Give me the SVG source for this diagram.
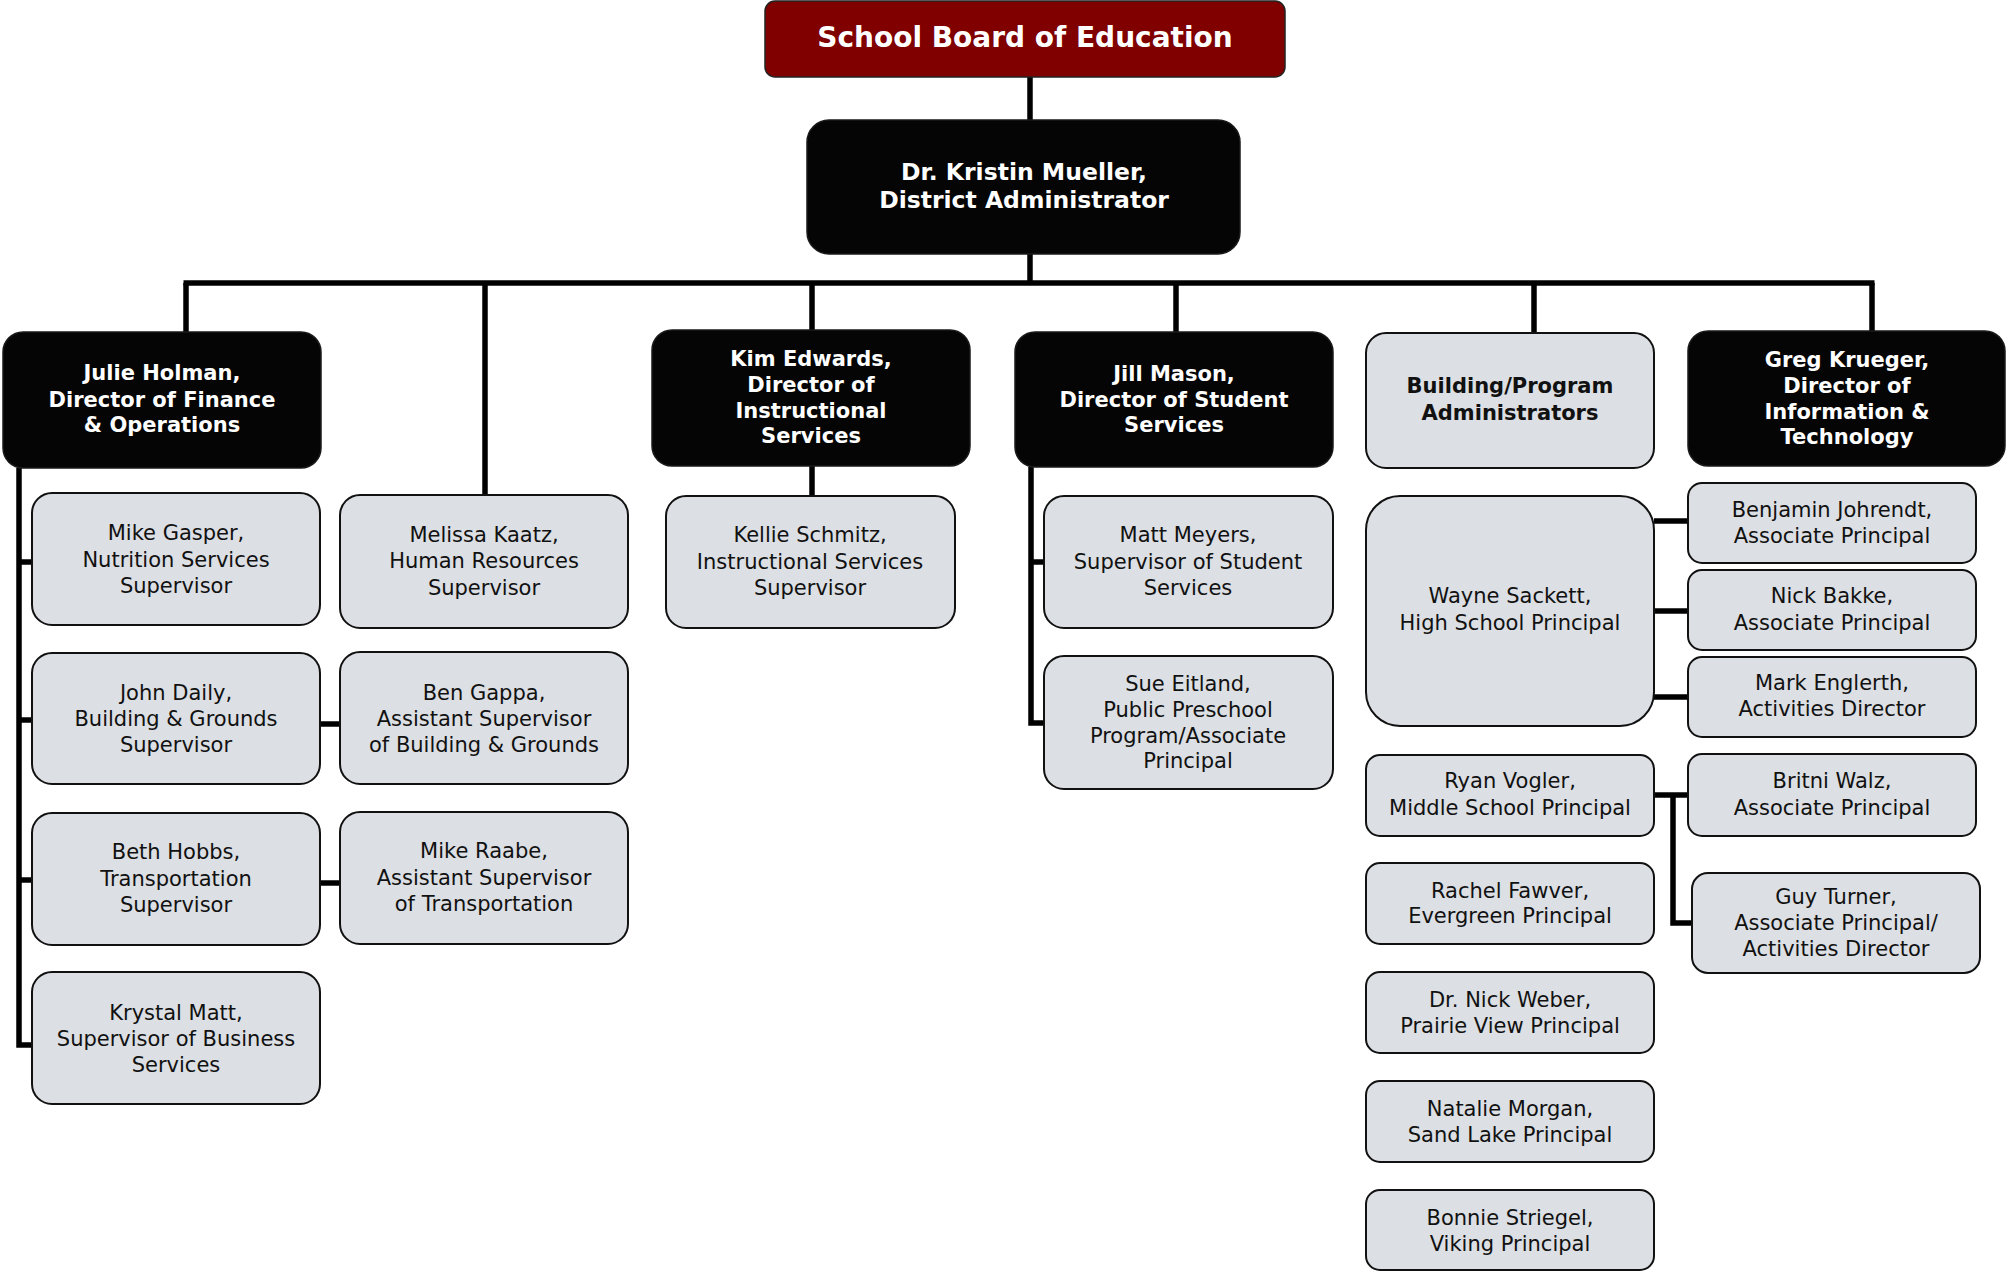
<svg xmlns="http://www.w3.org/2000/svg" width="2007" height="1273" viewBox="0 0 2007 1273">
<style>
.dk{fill:#050505;stroke:#1a1a1a;stroke-width:1.5}
.lt{fill:#dcdfe3;stroke:#111;stroke-width:2}
.bd{fill:#800000;stroke:#222;stroke-width:1.5}
.tw{font-family:"DejaVu Sans",Verdana,sans-serif;font-weight:bold;font-size:21px;fill:#fff;text-anchor:middle}
.tb{font-family:"DejaVu Sans",Verdana,sans-serif;font-weight:bold;font-size:21px;fill:#111;text-anchor:middle}
.tn{font-family:"DejaVu Sans",Verdana,sans-serif;font-size:21px;fill:#111;text-anchor:middle}
.cn{fill:none;stroke:#000;stroke-width:5.5;stroke-linejoin:miter}
</style>
<rect width="2007" height="1273" fill="#fff"/>
<g id="connectors" class="cn">
<path d="M1030,77 V120"/>
<path d="M1030,254 V283"/>
<path d="M183.5,283 H1874.5"/>
<path d="M186,283 V332"/>
<path d="M485,283 V495"/>
<path d="M812,283 V496"/>
<path d="M1176,283 V346"/>
<path d="M1534,283 V333"/>
<path d="M1872,283 V340"/>
<path d="M19,468 V1045 H32"/>
<path d="M19,562 H32"/>
<path d="M19,720 H32"/>
<path d="M19,880 H32"/>
<path d="M320,724 H340"/>
<path d="M320,883 H340"/>
<path d="M1031,467 V723 H1044"/>
<path d="M1031,562 H1044"/>
<path d="M1654,521 H1688"/>
<path d="M1654,611 H1688"/>
<path d="M1654,697 H1688"/>
<path d="M1654,795 H1688"/>
<path d="M1673,795 V923 H1692"/>
</g>
<g id="board"><rect class="bd" x="765" y="1" width="520" height="76" rx="10"/><text class="tw" x="1025" y="47" style="font-size:28px">School Board of Education</text></g>
<g id="admin"><rect class="dk" x="807" y="120" width="433" height="134" rx="22"/><text class="tw" x="1024" y="180" style="font-size:23.5px">Dr. Kristin Mueller,</text><text class="tw" x="1024" y="208" style="font-size:23.5px">District Administrator</text></g>
<g id="julie"><rect class="dk" x="3" y="332" width="318" height="136" rx="20"/><text class="tw" x="162" y="380">Julie Holman,</text><text class="tw" x="162" y="407">Director of Finance</text><text class="tw" x="162" y="432">&amp; Operations</text></g>
<g id="kim"><rect class="dk" x="652" y="330" width="318" height="136" rx="20"/><text class="tw" x="811" y="366">Kim Edwards,</text><text class="tw" x="811" y="392">Director of</text><text class="tw" x="811" y="418">Instructional</text><text class="tw" x="811" y="443">Services</text></g>
<g id="jill"><rect class="dk" x="1015" y="332" width="318" height="135" rx="20"/><text class="tw" x="1174" y="381">Jill Mason,</text><text class="tw" x="1174" y="407">Director of Student</text><text class="tw" x="1174" y="432">Services</text></g>
<g id="building"><rect class="lt" x="1366" y="333" width="288" height="135" rx="20"/><text class="tb" x="1510" y="393">Building/Program</text><text class="tb" x="1510" y="420">Administrators</text></g>
<g id="greg"><rect class="dk" x="1688" y="331" width="317" height="135" rx="20"/><text class="tw" x="1847" y="367">Greg Krueger,</text><text class="tw" x="1847" y="393">Director of</text><text class="tw" x="1847" y="419">Information &amp;</text><text class="tw" x="1847" y="444">Technology</text></g>
<g id="gasper"><rect class="lt" x="32" y="493" width="288" height="132" rx="20"/><text class="tn" x="176" y="540">Mike Gasper,</text><text class="tn" x="176" y="567">Nutrition Services</text><text class="tn" x="176" y="593">Supervisor</text></g>
<g id="kaatz"><rect class="lt" x="340" y="495" width="288" height="133" rx="20"/><text class="tn" x="484" y="542">Melissa Kaatz,</text><text class="tn" x="484" y="568">Human Resources</text><text class="tn" x="484" y="595">Supervisor</text></g>
<g id="daily"><rect class="lt" x="32" y="653" width="288" height="131" rx="20"/><text class="tn" x="176" y="700">John Daily,</text><text class="tn" x="176" y="726">Building &amp; Grounds</text><text class="tn" x="176" y="752">Supervisor</text></g>
<g id="gappa"><rect class="lt" x="340" y="652" width="288" height="132" rx="20"/><text class="tn" x="484" y="700">Ben Gappa,</text><text class="tn" x="484" y="726">Assistant Supervisor</text><text class="tn" x="484" y="752">of Building &amp; Grounds</text></g>
<g id="hobbs"><rect class="lt" x="32" y="813" width="288" height="132" rx="20"/><text class="tn" x="176" y="859">Beth Hobbs,</text><text class="tn" x="176" y="886">Transportation</text><text class="tn" x="176" y="912">Supervisor</text></g>
<g id="raabe"><rect class="lt" x="340" y="812" width="288" height="132" rx="20"/><text class="tn" x="484" y="858">Mike Raabe,</text><text class="tn" x="484" y="885">Assistant Supervisor</text><text class="tn" x="484" y="911">of Transportation</text></g>
<g id="matt-krystal"><rect class="lt" x="32" y="972" width="288" height="132" rx="20"/><text class="tn" x="176" y="1020">Krystal Matt,</text><text class="tn" x="176" y="1046">Supervisor of Business</text><text class="tn" x="176" y="1072">Services</text></g>
<g id="schmitz"><rect class="lt" x="666" y="496" width="289" height="132" rx="20"/><text class="tn" x="810" y="542">Kellie Schmitz,</text><text class="tn" x="810" y="569">Instructional Services</text><text class="tn" x="810" y="595">Supervisor</text></g>
<g id="meyers"><rect class="lt" x="1044" y="496" width="289" height="132" rx="20"/><text class="tn" x="1188" y="542">Matt Meyers,</text><text class="tn" x="1188" y="569">Supervisor of Student</text><text class="tn" x="1188" y="595">Services</text></g>
<g id="eitland"><rect class="lt" x="1044" y="656" width="289" height="133" rx="20"/><text class="tn" x="1188" y="691">Sue Eitland,</text><text class="tn" x="1188" y="717">Public Preschool</text><text class="tn" x="1188" y="743">Program/Associate</text><text class="tn" x="1188" y="768">Principal</text></g>
<g id="sackett"><rect class="lt" x="1366" y="496" width="288" height="230" rx="34"/><text class="tn" x="1510" y="603">Wayne Sackett,</text><text class="tn" x="1510" y="630">High School Principal</text></g>
<g id="johrendt"><rect class="lt" x="1688" y="483" width="288" height="80" rx="14"/><text class="tn" x="1832" y="517">Benjamin Johrendt,</text><text class="tn" x="1832" y="543">Associate Principal</text></g>
<g id="bakke"><rect class="lt" x="1688" y="570" width="288" height="80" rx="14"/><text class="tn" x="1832" y="603">Nick Bakke,</text><text class="tn" x="1832" y="630">Associate Principal</text></g>
<g id="englerth"><rect class="lt" x="1688" y="657" width="288" height="80" rx="14"/><text class="tn" x="1832" y="690">Mark Englerth,</text><text class="tn" x="1832" y="716">Activities Director</text></g>
<g id="vogler"><rect class="lt" x="1366" y="755" width="288" height="81" rx="14"/><text class="tn" x="1510" y="788">Ryan Vogler,</text><text class="tn" x="1510" y="815">Middle School Principal</text></g>
<g id="walz"><rect class="lt" x="1688" y="754" width="288" height="82" rx="14"/><text class="tn" x="1832" y="788">Britni Walz,</text><text class="tn" x="1832" y="815">Associate Principal</text></g>
<g id="turner"><rect class="lt" x="1692" y="873" width="288" height="100" rx="16"/><text class="tn" x="1836" y="904">Guy Turner,</text><text class="tn" x="1836" y="930">Associate Principal/</text><text class="tn" x="1836" y="956">Activities Director</text></g>
<g id="fawver"><rect class="lt" x="1366" y="863" width="288" height="81" rx="14"/><text class="tn" x="1510" y="898">Rachel Fawver,</text><text class="tn" x="1510" y="923">Evergreen Principal</text></g>
<g id="weber"><rect class="lt" x="1366" y="972" width="288" height="81" rx="14"/><text class="tn" x="1510" y="1007">Dr. Nick Weber,</text><text class="tn" x="1510" y="1033">Prairie View Principal</text></g>
<g id="morgan"><rect class="lt" x="1366" y="1081" width="288" height="81" rx="14"/><text class="tn" x="1510" y="1116">Natalie Morgan,</text><text class="tn" x="1510" y="1142">Sand Lake Principal</text></g>
<g id="striegel"><rect class="lt" x="1366" y="1190" width="288" height="80" rx="14"/><text class="tn" x="1510" y="1225">Bonnie Striegel,</text><text class="tn" x="1510" y="1251">Viking Principal</text></g>
</svg>
